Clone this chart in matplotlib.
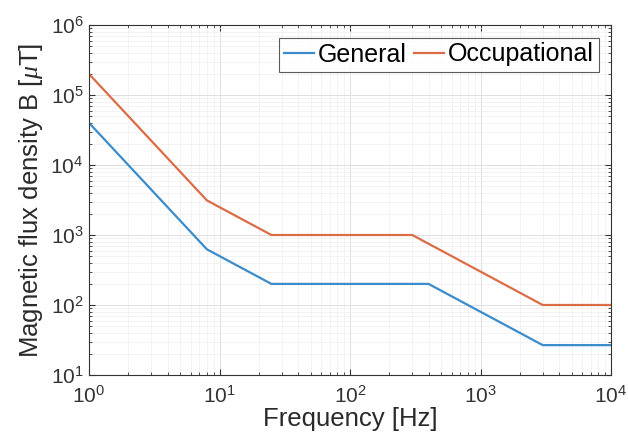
import matplotlib
matplotlib.use("Agg")
import matplotlib.pyplot as plt
from matplotlib.ticker import LogLocator, NullFormatter

plt.rcParams['font.family'] = ['Liberation Sans', 'DejaVu Sans']
plt.rcParams['mathtext.fontset'] = 'custom'
plt.rcParams['mathtext.rm'] = 'Liberation Sans'
plt.rcParams['mathtext.it'] = 'Liberation Serif:italic'

freq_general = [1, 8, 25, 400, 3000, 10000]
b_general = [40000, 625, 200, 200, 26.7, 26.7]
freq_occupational = [1, 8, 25, 300, 3000, 10000]
b_occupational = [200000, 3125, 1000, 1000, 100, 100]

fig = plt.figure(figsize=(6.28, 4.43), dpi=100)
ax = fig.add_axes([89/628, 1-375/443, (611-89)/628, (375-25)/443])

ax.plot(freq_general, b_general, color='#3a8ccc', lw=1.6, label='General')
ax.plot(freq_occupational, b_occupational, color='#dc6c45', lw=1.6, label='Occupational')
ax.set_xscale('log')
ax.set_yscale('log')
ax.set_xlim(1, 1e4)
ax.set_ylim(10, 1e6)

ax.xaxis.set_major_locator(LogLocator(base=10, numticks=10))
ax.yaxis.set_major_locator(LogLocator(base=10, numticks=10))
ax.xaxis.set_minor_locator(LogLocator(base=10, subs=range(2, 10), numticks=20))
ax.yaxis.set_minor_locator(LogLocator(base=10, subs=range(2, 10), numticks=20))
ax.xaxis.set_minor_formatter(NullFormatter())
ax.yaxis.set_minor_formatter(NullFormatter())

ax.grid(True, which='major', color='#e0e0e0', lw=0.7)
ax.grid(True, which='minor', color='#efefef', lw=0.5)
ax.set_axisbelow(True)
ax.tick_params(which='both', direction='in', top=True, right=True, labelsize=15, colors='#333333')
ax.tick_params(which='major', length=4, pad=4)
ax.tick_params(axis='x', which='major', pad=7)
ax.tick_params(which='minor', length=2)
for s in ax.spines.values():
    s.set_color('#333333')
    s.set_linewidth(0.8)

ax.set_xlabel('Frequency [Hz]', fontsize=18.5, color='#2a2a2a', labelpad=0)
ax.set_ylabel(r'Magnetic flux density B [$\mathit{\mu}$T]', fontsize=18.5, color='#2a2a2a', labelpad=4)

leg = ax.legend(loc='upper right', ncol=2, fontsize=18, handlelength=1.2, handletextpad=0.15,
                columnspacing=0.3, frameon=True, fancybox=False, borderpad=0.2,
                borderaxespad=0.5)
leg.get_frame().set_edgecolor('#333333')
leg.get_frame().set_linewidth(0.8)

fig.savefig('out.png', dpi=100)
